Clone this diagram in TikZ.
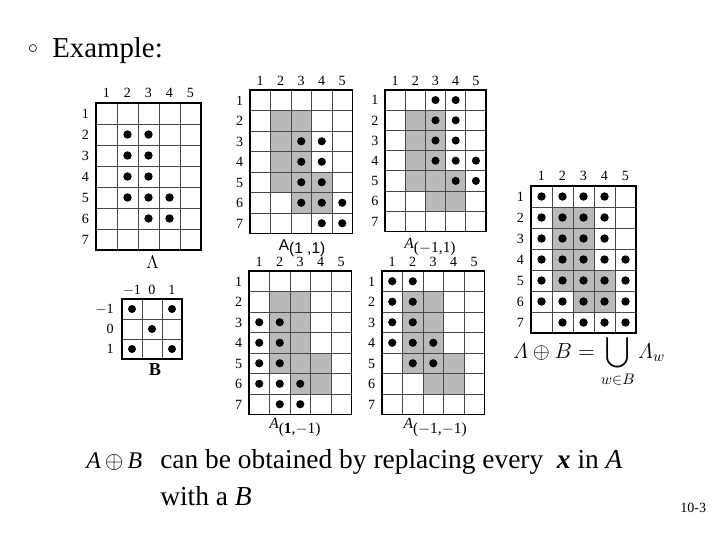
\RequirePackage{fix-cm}
\documentclass[tikz,border=0pt]{standalone}
\usepackage{amsmath}
\usepackage{amssymb}
\usepackage{fontspec}
\setmainfont{Liberation Serif}
\setsansfont{Liberation Sans}
\usetikzlibrary{positioning}

\begin{document}
\begin{tikzpicture}[x=0.025cm, y=-0.025cm,
    cellline/.style={black!72, line width=0.55pt},
    gridframe/.style={black, line width=0.8pt},
    pix/.style={fill=black},
    hit/.style={fill=black!27},
    numlab/.style={font=\fontsize{10}{12}\selectfont, inner sep=0pt, text height=6.8pt, text depth=0pt},
    sublab/.style={font=\fontsize{11}{13}\selectfont, inner sep=0pt},
    bigtext/.style={font=\fontsize{19.5}{24}\selectfont, inner sep=0pt, anchor=base west}
  ]
  \useasboundingbox (0,0) rectangle (720,540);

  % Title
  \node[inner sep=0pt, font=\fontsize{14}{16}\selectfont] (bullet) at (33,49) {$\circ$};
  \node[inner sep=0pt, anchor=base west, font=\fontsize{20.5}{24}\selectfont] (title) at (52,57) {Example:};

  % Shading of A in the shifted grids and in the result
  \foreach \gx/\gy/\gs in {250/90/20.5, 385/90/20.2, 249/271/20.5, 382/271/20.5, 531/186/21} {
    \begin{scope}[shift={(\gx,\gy)}, scale=\gs]
      \foreach \c/\r in {2/2,3/2,2/3,3/3,2/4,3/4,2/5,3/5,4/5,3/6,4/6}
        \fill[hit] (\c-1,\r-1) rectangle (\c,\r);
    \end{scope}
  }

  % Grid lines and numbers of the 5x7 grids
  \foreach \g/\gx/\gy/\gs in {a/96/103/21, pp/250/90/20.5, mp/385/90/20.2, pm/249/271/20.5, mm/382/271/20.5, sum/531/186/21} {
    \begin{scope}[shift={(\gx,\gy)}, scale=\gs]
      \foreach \c in {0,...,5} \draw[cellline] (\c,0) -- (\c,7);
      \foreach \r in {0,...,7} \draw[cellline] (0,\r) -- (5,\r);
      \draw[gridframe] (0,0) rectangle (5,7);
      \foreach \c in {1,...,5} \node[numlab] (\g-col\c) at (\c-0.5,-0.47) {\c};
      \foreach \r in {1,...,7} \node[numlab] (\g-row\r) at (-0.5,\r-0.5) {\r};
    \end{scope}
  }

  % Grid A
  \begin{scope}[shift={(96,103)}, scale=21]
    \foreach \c/\r in {2/2,3/2,2/3,3/3,2/4,3/4,2/5,3/5,4/5,3/6,4/6}
      \fill[pix] (\c-0.5,\r-0.5) circle [radius=0.2];
    \node[font=\fontsize{13}{15}\selectfont] (a-name) at (2.7,7.6) {$\Lambda$};
  \end{scope}

  % Grid A(1,1)
  \begin{scope}[shift={(250,90)}, scale=20.5]
    \foreach \c/\r in {3/3,4/3,3/4,4/4,3/5,4/5,3/6,4/6,5/6,4/7,5/7}
      \fill[pix] (\c-0.5,\r-0.5) circle [radius=0.2];
    \node[sublab, font=\sffamily\fontsize{11}{13}\selectfont] (pp-name) at (2.54,7.72) {A\raisebox{-1.5pt}{(1 ,1)}};
  \end{scope}

  % Grid A(-1,1)
  \begin{scope}[shift={(385,90)}, scale=20.2]
    \foreach \c/\r in {3/1,4/1,3/2,4/2,3/3,4/3,3/4,4/4,5/4,4/5,5/5}
      \fill[pix] (\c-0.5,\r-0.5) circle [radius=0.2];
    \node[sublab] (mp-name) at (2.23,7.76) {\textit{A}\raisebox{-3pt}{($-$1,1)}};
  \end{scope}

  % Grid A(1,-1)
  \begin{scope}[shift={(249,271)}, scale=20.5]
    \foreach \c/\r in {1/3,2/3,1/4,2/4,1/5,2/5,1/6,2/6,3/6,2/7,3/7}
      \fill[pix] (\c-0.5,\r-0.5) circle [radius=0.2];
    \node[sublab] (pm-name) at (2.24,7.64) {\textit{A}\raisebox{-3pt}{(\textbf{1},$-$1)}};
  \end{scope}

  % Grid A(-1,-1)
  \begin{scope}[shift={(382,271)}, scale=20.5]
    \foreach \c/\r in {1/1,2/1,1/2,2/2,1/3,2/3,1/4,2/4,3/4,2/5,3/5}
      \fill[pix] (\c-0.5,\r-0.5) circle [radius=0.2];
    \node[sublab] (mm-name) at (2.59,7.64) {\textit{A}\raisebox{-3pt}{($-$1,$-$1)}};
  \end{scope}

  % Result grid
  \begin{scope}[shift={(531,186)}, scale=21]
    \foreach \r/\cs in {1/{1,...,4}, 2/{1,...,4}, 3/{1,...,4}, 4/{1,...,5}, 5/{1,...,5}, 6/{1,...,5}, 7/{2,...,5}}
      \foreach \c in \cs
        \fill[pix] (\c-0.5,\r-0.5) circle [radius=0.2];
  \end{scope}
  \node[anchor=base west, inner sep=0pt, font=\fontsize{15.5}{18}\selectfont] (union) at (513,358)
    {$\displaystyle \varLambda\oplus B=\bigcup_{w\in B}\varLambda_{w}$};

  % Grid B
  \begin{scope}[shift={(122,299)}, scale=20]
    \foreach \c/\r in {1/1,3/1,2/2,1/3,3/3}
      \fill[pix] (\c-0.5,\r-0.5) circle [radius=0.2];
    \foreach \c in {0,...,3} \draw[cellline] (\c,0) -- (\c,3);
    \foreach \r in {0,...,3} \draw[cellline] (0,\r) -- (3,\r);
    \draw[gridframe] (0,0) rectangle (3,3);
    \foreach \v [count=\i] in {$-$1,0,1} {
      \node[numlab] (b-col\i) at (\i-0.5,-0.47) {\v};
      \node[numlab, anchor=east] (b-row\i) at (-0.4,\i-0.5) {\v};
    }
    \node[font=\bfseries\fontsize{13}{15}\selectfont] (b-name) at (1.65,3.55) {B};
  \end{scope}

  % Caption
  \node[anchor=base west, inner sep=0pt, font=\fontsize{17}{20}\selectfont] (sumAB) at (86,468)
    {\textit{A}\,$\oplus$\,\textit{B}};
  \node[bigtext] (rule1) at (160,468) {can be obtained by replacing every \ \textbf{\textit{x}} in \textit{A}};
  \node[bigtext] (rule2) at (160,505) {with a \textit{B}};
  \node[anchor=base west, inner sep=0pt, font=\fontsize{10}{12}\selectfont] (pageno) at (680,512) {10-3};
\end{tikzpicture}
\end{document}
